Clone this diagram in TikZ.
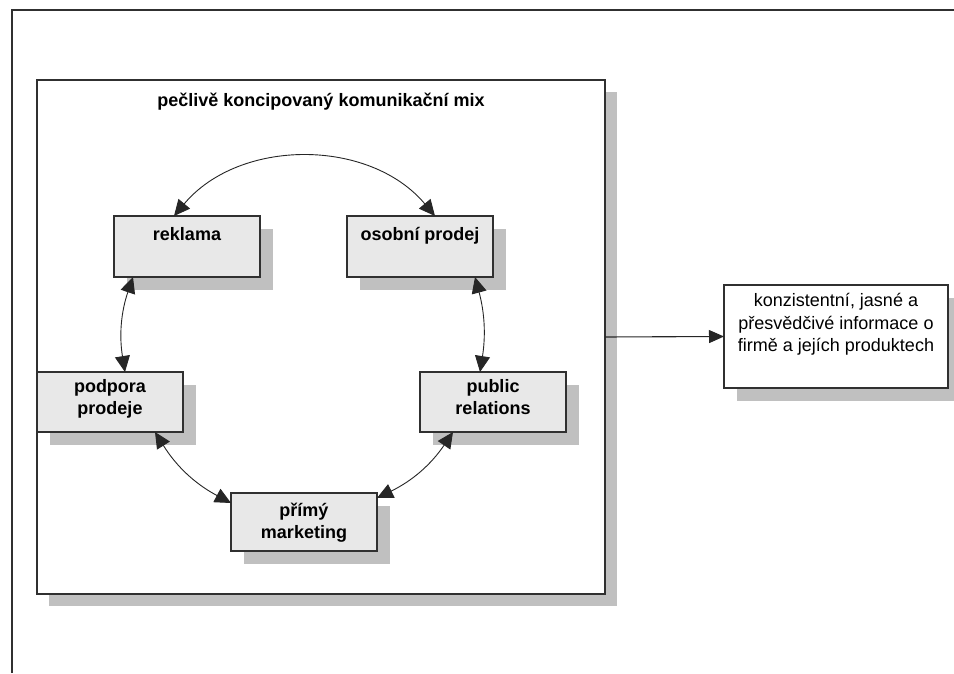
\documentclass[tikz,border=0pt]{standalone}
\usepackage{fontspec}
\setmainfont{Liberation Sans}
\usetikzlibrary{arrows.meta,shadows}
\definecolor{boxgray}{HTML}{E8E8E8}
\definecolor{shadowgray}{HTML}{C0C0C0}
\definecolor{edgegray}{HTML}{303030}
\begin{document}
\begin{tikzpicture}[x=1pt,y=1pt,
  every node/.style={inner sep=0pt, outer sep=0pt},
  shd/.style={general shadow={fill=shadowgray, shadow xshift=13pt, shadow yshift=-13pt}},
  frame/.style={draw=edgegray, line width=1.1pt},
  mixbox/.style={frame, fill=boxgray, shd, minimum width=146pt, minimum height=60pt},
  lbl/.style={anchor=base, align=center, font=\fontsize{18}{22}\selectfont\bfseries},
  link/.style={draw=black!85, line width=0.9pt, {Triangle[length=16pt,width=15pt]}-{Triangle[length=16pt,width=15pt]}},
  mainarrow/.style={draw=black!85, line width=1.1pt, -{Triangle[length=15pt,width=13pt]}}
]
\useasboundingbox (0,0) rectangle (954,673);
% open outer frame
\coordinate (fbl) at (12,0);
\coordinate (ftl) at (12,663);
\coordinate (ftr) at (954,663);
\draw[line width=1.2pt, draw=edgegray] (fbl) -- (ftl) -- (ftr);

% big container
\node[frame, fill=white, general shadow={fill=shadowgray, shadow xshift=12pt, shadow yshift=-12pt},
      minimum width=568pt, minimum height=514pt] (big) at (321,336) {};
\node[lbl] (title) at ([yshift=-27pt]big.north) {pečlivě koncipovaný komunikační mix};

% the five boxes (multi-line labels are placed by the baseline of their last line)
\node[mixbox, minimum height=61pt] (rek) at (187,426.5) {};
\node[lbl] (rekt) at ([yshift=-25pt]rek.north) {reklama};
\node[mixbox, minimum height=61pt] (osb) at (420,426.5) {};
\node[lbl] (osbt) at ([yshift=-25pt]osb.north) {osobní prodej};
\node[mixbox] (pod) at (110,271) {};
\node[lbl] (podt) at ([yshift=-43pt]pod.north) {podpora\\prodeje};
\node[mixbox] (pr) at (493,271) {};
\node[lbl] (prt) at ([yshift=-43pt]pr.north) {public\\relations};
\node[mixbox, minimum height=58pt] (pm) at (304,151) {};
\node[lbl] (pmt) at ([yshift=-45pt]pm.north) {přímý\\marketing};

% result box
\node[frame, fill=white, shd, minimum width=224pt, minimum height=103pt] (res) at (836,336.5) {};
\node[anchor=base, align=center, font=\fontsize{18}{22.5}\selectfont] (rest) at ([yshift=-67pt]res.north)
  {konzistentní, jasné a\\přesvědčivé informace o\\firmě a jejích produktech};

% connectors
\draw[link] ([xshift=-13pt]rek.north) to[bend left=50] ([xshift=15pt]osb.north);
\draw[link] ([xshift=-54pt]rek.south) to[bend right=14] ([xshift=15pt]pod.north);
\draw[link] ([xshift=55pt]osb.south) to[bend left=12] ([xshift=-13pt]pr.north);
\draw[link] ([xshift=45pt]pod.south) to[bend right=15] ([yshift=19pt]pm.west);
\draw[link] ([yshift=24pt]pm.east) to[bend right=15] ([xshift=-40pt]pr.south);
\draw[mainarrow] (big.east) -- (res.west);
\end{tikzpicture}
\end{document}
